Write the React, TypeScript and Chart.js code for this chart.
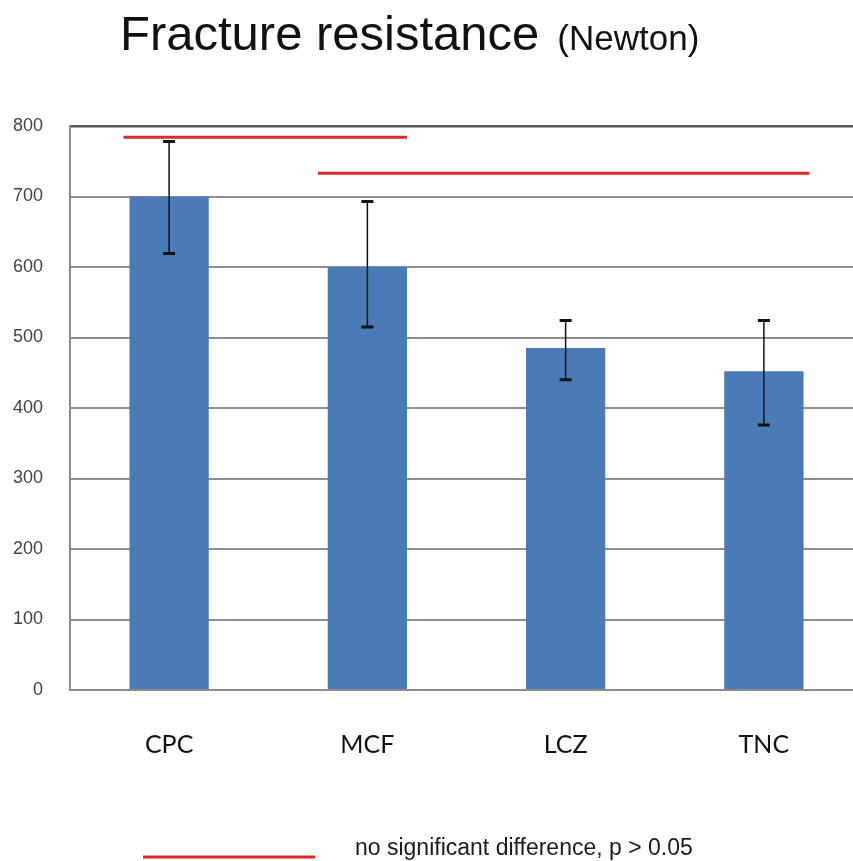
import React, { useEffect, useRef } from "react";
import { Chart, registerables } from "chart.js";

Chart.register(...registerables);

const categories = ["CPC", "MCF", "LCZ", "TNC"];
const meanValues = [700, 600, 485, 452];
const errorHigh = [778, 693, 524, 524];
const errorLow = [619, 515, 440, 376];
const sigLineA_X = [-0.23, 1.2];
const sigLineA_Y = 784;
const sigLineB_X = [0.75, 3.23];
const sigLineB_Y = 733;
const yMin = 0;
const yMax = 800;
const yStep = 100;
const titleMain = "Fracture resistance";
const titleUnit = "(Newton)";
const legendText = "no significant difference, p > 0.05";

const RED = "#dd2a26";
const BLUE = "#4a7bb7";
const GRID = "#8d8d8d";

const errorBarPlugin = {
  id: "errorBars",
  afterDatasetsDraw(chart: any) {
    const meta = chart.getDatasetMeta(0);
    const y = chart.scales.y;
    const ctx = chart.ctx;
    ctx.save();
    ctx.strokeStyle = "#111";
    meta.data.forEach((bar: any, i: number) => {
      const x = bar.x;
      const yh = y.getPixelForValue(errorHigh[i]);
      const yl = y.getPixelForValue(errorLow[i]);
      ctx.lineWidth = 1.5;
      ctx.beginPath();
      ctx.moveTo(x, yh);
      ctx.lineTo(x, yl);
      ctx.stroke();
      ctx.lineWidth = 3;
      ctx.beginPath();
      ctx.moveTo(x - 6, yh);
      ctx.lineTo(x + 6, yh);
      ctx.moveTo(x - 6, yl);
      ctx.lineTo(x + 6, yl);
      ctx.stroke();
    });
    ctx.restore();
  },
};

const textPlugin = {
  id: "titleLegend",
  afterDraw(chart: any) {
    const ctx = chart.ctx;
    ctx.save();
    ctx.fillStyle = "#111";
    ctx.textBaseline = "alphabetic";
    ctx.textAlign = "left";
    ctx.font = "49px 'Liberation Sans', Arial, sans-serif";
    ctx.fillText(titleMain, 120, 50);
    const w = ctx.measureText(titleMain).width;
    ctx.font = "35px 'Liberation Sans', Arial, sans-serif";
    ctx.fillText(titleUnit, 120 + w + 18, 50);
    // legend
    ctx.strokeStyle = RED;
    ctx.lineWidth = 3;
    ctx.beginPath();
    ctx.moveTo(143, 857);
    ctx.lineTo(315, 857);
    ctx.stroke();
    ctx.fillStyle = "#1a1a1a";
    ctx.font = "23px 'Liberation Sans', Arial, sans-serif";
    ctx.fillText(legendText, 355, 855);
    ctx.restore();
  },
};

export default function App() {
  const ref = useRef<HTMLCanvasElement>(null);
  useEffect(() => {
    if (!ref.current) return;
    const chart = new Chart(ref.current, {
      type: "bar",
      data: {
        labels: categories,
        datasets: [
          {
            type: "bar",
            data: meanValues,
            backgroundColor: BLUE,
            barPercentage: 0.4,
            categoryPercentage: 1.0,
            grouped: false,
            order: 2,
          } as any,
          {
            type: "line",
            xAxisID: "x2",
            data: sigLineA_X.map((x) => ({ x, y: sigLineA_Y })),
            borderColor: RED,
            borderWidth: 3,
            pointRadius: 0,
            order: 1,
          } as any,
          {
            type: "line",
            xAxisID: "x2",
            data: sigLineB_X.map((x) => ({ x, y: sigLineB_Y })),
            borderColor: RED,
            borderWidth: 3,
            pointRadius: 0,
            order: 1,
          } as any,
        ],
      },
      options: {
        animation: false,
        responsive: false,
        maintainAspectRatio: false,
        layout: { padding: { top: 126, left: 0, right: 17, bottom: 0 } },
        plugins: { legend: { display: false }, tooltip: { enabled: false }, title: { display: false } },
        scales: {
          x: {
            type: "category",
            offset: true,
            grid: { display: false, drawTicks: false },
            border: { display: true, color: GRID, width: 2 },
            ticks: {
              color: "#111",
              padding: 40,
              font: { family: "Lato, 'Open Sans', sans-serif", size: 25 },
            },
            afterFit(scale: any) {
              scale.height = 171;
            },
          },
          x2: {
            type: "linear",
            display: false,
            offset: false,
            grace: 0,
            bounds: "data",
            min: -0.5,
            max: 3.5,
          },
          y: {
            min: yMin,
            max: yMax,
            ticks: {
              stepSize: yStep,
              color: "#444",
              padding: 27,
              font: { family: "'Liberation Sans', Arial, sans-serif", size: 18 },
            },
            grid: {
              drawTicks: false,
              color: (c: any) => (c.tick && c.tick.value === yMax ? "#555" : GRID),
              lineWidth: (c: any) => (c.tick && c.tick.value === yMax ? 2.5 : 2),
            },
            border: { display: true, color: GRID, width: 2 },
            afterFit(scale: any) {
              scale.width = 70;
            },
          },
        },
      },
      plugins: [errorBarPlugin, textPlugin],
    });
    return () => chart.destroy();
  }, []);
  return (
    <div style={{ position: "fixed", left: 0, top: 0, width: 853, height: 861, overflow: "hidden", background: "#fff" }}>
      <canvas ref={ref} width={880} height={861} style={{ position: "absolute", left: 0, top: 0, width: 880, height: 861 }} />
    </div>
  );
}
